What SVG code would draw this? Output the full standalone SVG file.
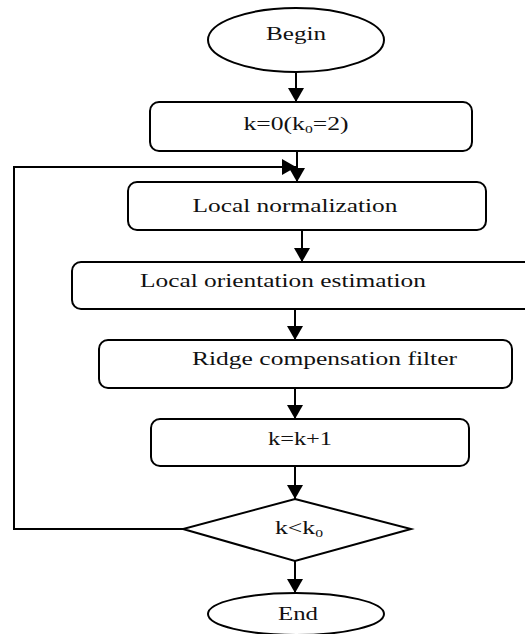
<svg xmlns="http://www.w3.org/2000/svg" width="525" height="634" viewBox="0 0 525 634">
<defs>
<style>
.box{fill:#fff;stroke:#000;stroke-width:2}
.t{font-family:"Liberation Serif","Times New Roman",serif;font-size:18px;fill:#111;text-anchor:middle}
.sub{font-size:11px}
.c{fill:none;stroke:#000;stroke-width:2}
</style>
<marker id="ah" viewBox="0 0 14 16" refX="14" refY="8" markerWidth="14" markerHeight="16" markerUnits="userSpaceOnUse" orient="auto">
<path d="M0,0 L14,8 L0,16 Z" fill="#000"/>
</marker>
</defs>
<rect width="525" height="634" fill="#fff"/>
<g id="connectors">
<line class="c" x1="296" y1="72" x2="296" y2="102" marker-end="url(#ah)"/>
<line class="c" x1="297" y1="151" x2="297" y2="182" marker-end="url(#ah)"/>
<polyline class="c" points="183,529 14,529 14,167 296,167" marker-end="url(#ah)"/>
<line class="c" x1="302" y1="230" x2="302" y2="262" marker-end="url(#ah)"/>
<line class="c" x1="295" y1="309" x2="295" y2="340" marker-end="url(#ah)"/>
<line class="c" x1="295" y1="388" x2="295" y2="419" marker-end="url(#ah)"/>
<line class="c" x1="295" y1="466" x2="295" y2="499" marker-end="url(#ah)"/>
<line class="c" x1="295" y1="561" x2="295" y2="593" marker-end="url(#ah)"/>
</g>
<g id="begin">
<ellipse class="box" cx="296" cy="40" rx="88" ry="32"/>
<text class="t" x="296" y="40" textLength="60" lengthAdjust="spacingAndGlyphs">Begin</text>
</g>
<g id="init">
<rect class="box" x="150" y="102" width="322" height="49" rx="9"/>
<text class="t" x="296" y="130" textLength="105" lengthAdjust="spacingAndGlyphs">k=0(k<tspan class="sub" dy="3">0</tspan><tspan dy="-3">=2)</tspan></text>
</g>
<g id="normalization">
<rect class="box" x="128" y="182" width="358" height="48" rx="9"/>
<text class="t" x="295" y="212" textLength="205" lengthAdjust="spacingAndGlyphs">Local normalization</text>
</g>
<g id="orientation">
<rect class="box" x="72" y="262" width="480" height="47" rx="9"/>
<text class="t" x="283" y="287" textLength="286" lengthAdjust="spacingAndGlyphs">Local orientation estimation</text>
</g>
<g id="ridge">
<rect class="box" x="99" y="340" width="413" height="48" rx="9"/>
<text class="t" x="324.5" y="365" textLength="265" lengthAdjust="spacingAndGlyphs">Ridge compensation filter</text>
</g>
<g id="increment">
<rect class="box" x="151" y="419" width="318" height="47" rx="9"/>
<text class="t" x="300" y="445" textLength="64" lengthAdjust="spacingAndGlyphs">k=k+1</text>
</g>
<g id="decision">
<polygon class="box" points="295,499 411,529 295,561 183,529"/>
<text class="t" x="299" y="534" textLength="48" lengthAdjust="spacingAndGlyphs">k&lt;k<tspan class="sub" dy="3">0</tspan></text>
</g>
<g id="end">
<ellipse class="box" cx="296" cy="614" rx="88" ry="21"/>
<text class="t" x="298" y="620" textLength="40" lengthAdjust="spacingAndGlyphs">End</text>
</g>
</svg>
